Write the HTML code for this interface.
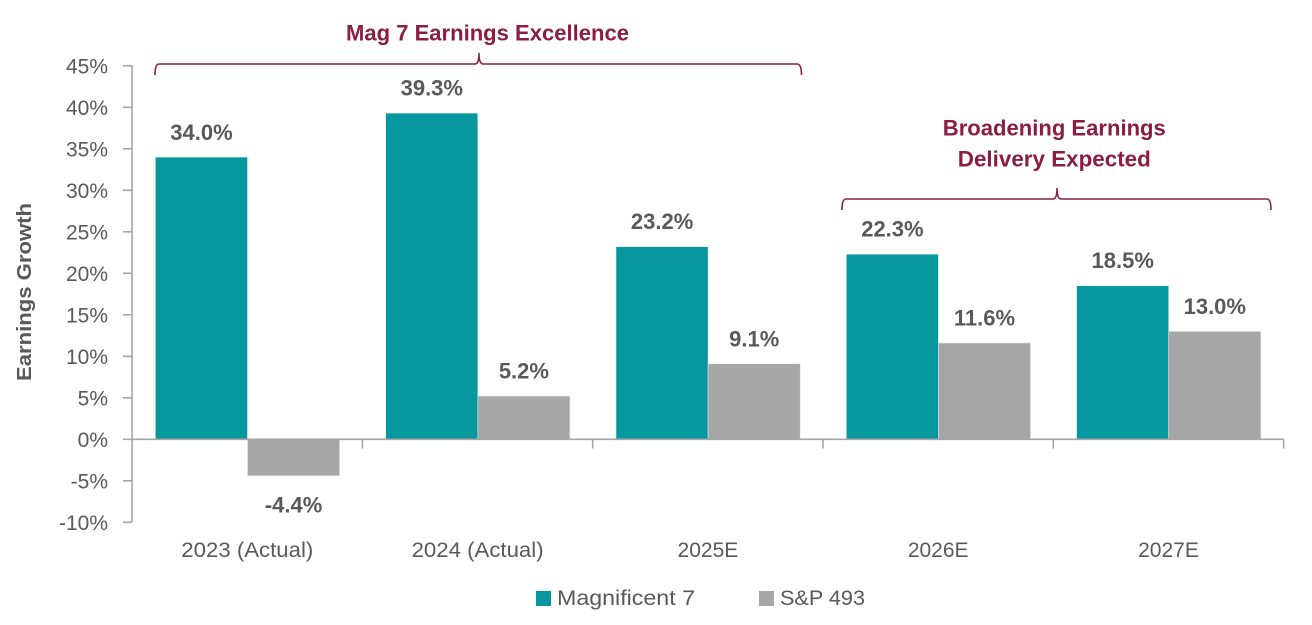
<!DOCTYPE html>
<html>
<head>
<meta charset="utf-8">
<style>
  html, body { margin:0; padding:0; background:#ffffff; }
  body { width:1312px; height:625px; overflow:hidden; }
  svg { display:block; font-family:"Liberation Sans", sans-serif; }
  .tick { font-size:21px; fill:#595959; }
  .xl { font-size:21px; fill:#595959; }
  .dl { font-size:22px; font-weight:bold; fill:#595959; }
  .ann { font-size:22px; font-weight:bold; fill:#8C1D40; }
  .leg { font-size:21px; fill:#595959; }
</style>
</head>
<body>
<svg width="1312" height="625" viewBox="0 0 1312 625" xmlns="http://www.w3.org/2000/svg">
  <rect width="1312" height="625" fill="#ffffff"/>

  <!-- Y axis title -->
  <text class="dl" transform="translate(31,292) rotate(-90)" text-anchor="middle" font-size="20" textLength="178" lengthAdjust="spacingAndGlyphs" style="font-size:20px">Earnings Growth</text>

  <!-- Y tick labels -->
  <g class="tick" text-anchor="end">
    <text x="108" y="73.3">45%</text>
    <text x="108" y="114.8">40%</text>
    <text x="108" y="156.3">35%</text>
    <text x="108" y="197.8">30%</text>
    <text x="108" y="239.3">25%</text>
    <text x="108" y="280.8">20%</text>
    <text x="108" y="322.3">15%</text>
    <text x="108" y="363.8">10%</text>
    <text x="108" y="405.3">5%</text>
    <text x="108" y="446.8">0%</text>
    <text x="108" y="488.3">-5%</text>
    <text x="108" y="529.8">-10%</text>
  </g>

  <!-- Bars: Magnificent 7 -->
  <g fill="#06979F" stroke="#d9eef0" stroke-width="0.6">
    <rect x="155.4" y="157.1" width="92.1" height="282.2"/>
    <rect x="385.7" y="113.1" width="92.1" height="326.2"/>
    <rect x="616.0" y="246.7" width="92.1" height="192.6"/>
    <rect x="846.3" y="254.2" width="92.1" height="185.1"/>
    <rect x="1076.6" y="285.75" width="92.1" height="153.55"/>
  </g>
  <!-- Bars: S&P 493 -->
  <g fill="#A6A6A6" stroke="#e6e6e6" stroke-width="0.6">
    <rect x="247.5" y="439.3" width="92.1" height="36.5"/>
    <rect x="477.8" y="396.1" width="92.1" height="43.2"/>
    <rect x="708.1" y="363.8" width="92.1" height="75.5"/>
    <rect x="938.4" y="343.0" width="92.1" height="96.3"/>
    <rect x="1168.7" y="331.4" width="92.1" height="107.9"/>
  </g>

  <!-- Axes -->
  <g stroke="#A6A6A6" stroke-width="1.6" fill="none">
    <line x1="132.1" y1="65.8" x2="132.1" y2="522.3"/>
    <line x1="123" y1="65.8" x2="132.1" y2="65.8"/>
    <line x1="123" y1="107.3" x2="132.1" y2="107.3"/>
    <line x1="123" y1="148.8" x2="132.1" y2="148.8"/>
    <line x1="123" y1="190.3" x2="132.1" y2="190.3"/>
    <line x1="123" y1="231.8" x2="132.1" y2="231.8"/>
    <line x1="123" y1="273.3" x2="132.1" y2="273.3"/>
    <line x1="123" y1="314.8" x2="132.1" y2="314.8"/>
    <line x1="123" y1="356.3" x2="132.1" y2="356.3"/>
    <line x1="123" y1="397.8" x2="132.1" y2="397.8"/>
    <line x1="123" y1="439.3" x2="132.1" y2="439.3"/>
    <line x1="123" y1="480.8" x2="132.1" y2="480.8"/>
    <line x1="123" y1="522.3" x2="132.1" y2="522.3"/>
    <line x1="132.1" y1="439.3" x2="1284" y2="439.3"/>
    <line x1="362.4" y1="439.3" x2="362.4" y2="448.5"/>
    <line x1="592.7" y1="439.3" x2="592.7" y2="448.5"/>
    <line x1="823.0" y1="439.3" x2="823.0" y2="448.5"/>
    <line x1="1053.3" y1="439.3" x2="1053.3" y2="448.5"/>
    <line x1="1283.6" y1="439.3" x2="1283.6" y2="448.5"/>
  </g>

  <!-- Data labels -->
  <g class="dl" text-anchor="middle">
    <text x="201.5" y="140">34.0%</text>
    <text x="431.8" y="95.5">39.3%</text>
    <text x="662.1" y="229.2">23.2%</text>
    <text x="892.4" y="236.7">22.3%</text>
    <text x="1122.7" y="268.2">18.5%</text>
    <text x="293.6" y="512.7">-4.4%</text>
    <text x="523.9" y="378.6">5.2%</text>
    <text x="754.2" y="346.3">9.1%</text>
    <text x="984.5" y="325.5">11.6%</text>
    <text x="1214.8" y="313.9">13.0%</text>
  </g>

  <!-- X labels -->
  <g class="xl" text-anchor="middle">
    <text x="247.3" y="557" textLength="132" lengthAdjust="spacingAndGlyphs">2023 (Actual)</text>
    <text x="477.6" y="557" textLength="132" lengthAdjust="spacingAndGlyphs">2024 (Actual)</text>
    <text x="707.9" y="557">2025E</text>
    <text x="938.2" y="557">2026E</text>
    <text x="1168.5" y="557">2027E</text>
  </g>

  <!-- Annotations -->
  <text class="ann" x="487.5" y="40.5" text-anchor="middle" textLength="283" lengthAdjust="spacingAndGlyphs">Mag 7 Earnings Excellence</text>
  <path d="M155,75 Q155,64 159,64 L475,64 Q479,64 479,53 Q479,64 483,64 L797,64 Q801.5,64 801.5,75" stroke="#8C1D40" stroke-width="1.6" fill="none"/>

  <text class="ann" x="1054.3" y="135.7" text-anchor="middle" textLength="223" lengthAdjust="spacingAndGlyphs">Broadening Earnings</text>
  <text class="ann" x="1054.3" y="166.7" text-anchor="middle" textLength="193" lengthAdjust="spacingAndGlyphs">Delivery Expected</text>
  <path d="M842,210 Q842,199 846,199 L1053,199 Q1057,199 1057,188 Q1057,199 1061,199 L1267,199 Q1271,199 1271,210" stroke="#8C1D40" stroke-width="1.6" fill="none"/>

  <!-- Legend -->
  <rect x="536" y="591" width="15" height="15" fill="#06979F"/>
  <text class="leg" x="557" y="605" textLength="138" lengthAdjust="spacingAndGlyphs">Magnificent 7</text>
  <rect x="759" y="591" width="15" height="15" fill="#A6A6A6"/>
  <text class="leg" x="780" y="605" textLength="85" lengthAdjust="spacingAndGlyphs">S&amp;P 493</text>
</svg>
</body>
</html>
